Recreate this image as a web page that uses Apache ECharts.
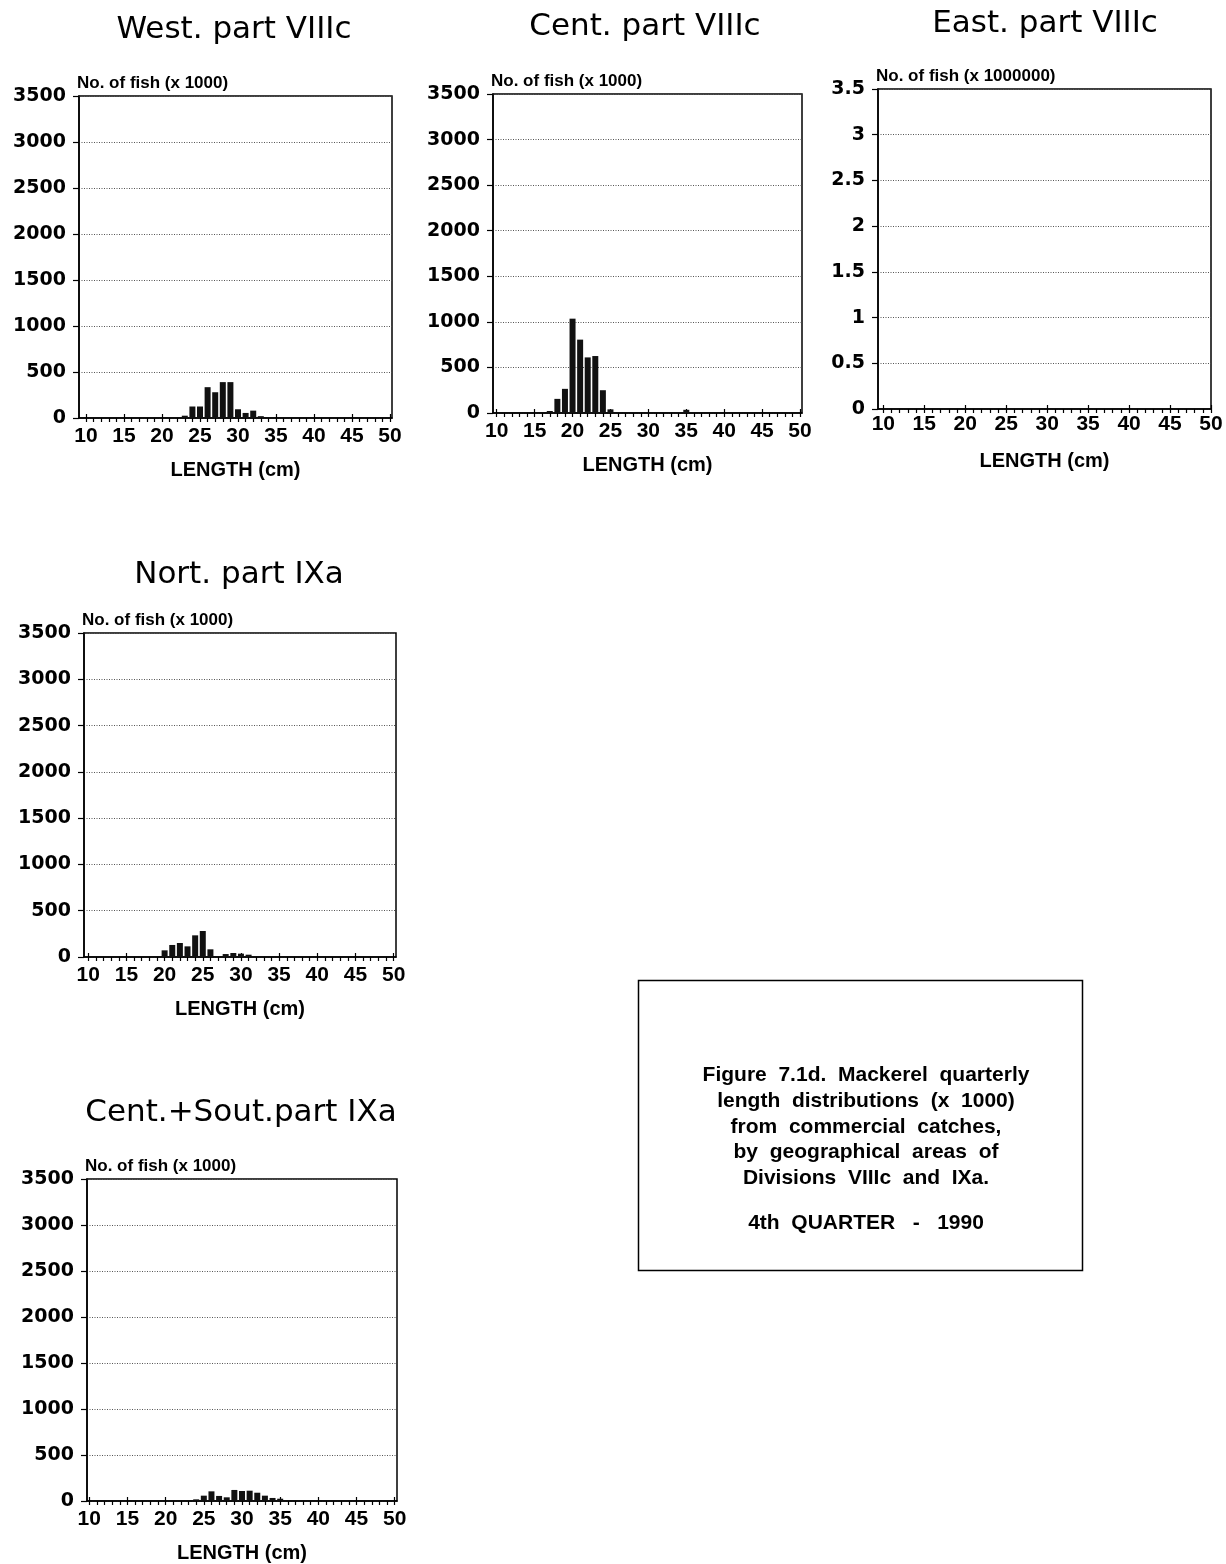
<!DOCTYPE html>
<html><head><meta charset="utf-8">
<script src="https://cdn.jsdelivr.net/npm/echarts@6/dist/echarts.min.js"></script>
<style>html,body{margin:0;padding:0;background:#fff}#c{width:1226px;height:1564px}</style>
</head><body><div id="c"></div>
<script>
// ---------- DATA ----------
const panelTitles = ['West. part VIIIc', 'Cent. part VIIIc', 'East. part VIIIc', 'Nort. part IXa', 'Cent.+Sout.part IXa'];
const yAxisNames = ['No. of fish (x 1000)', 'No. of fish (x 1000)', 'No. of fish (x 1000000)', 'No. of fish (x 1000)', 'No. of fish (x 1000)'];
const xAxisName = 'LENGTH (cm)';

const westLengths = [23, 24, 25, 26, 27, 28, 29, 30, 31, 32, 33];
const westCounts  = [25, 125, 125, 335, 280, 390, 390, 95, 55, 80, 20];

const centLengths = [17, 18, 19, 20, 21, 22, 23, 24, 25, 27, 28, 29, 31, 32, 34, 35, 36];
const centCounts  = [22, 155, 265, 1035, 805, 610, 625, 250, 40, 5, 8, 5, 5, 5, 10, 35, 8];

const eastLengths = [];
const eastCounts  = [];

const nortLengths = [20, 21, 22, 23, 24, 25, 26, 28, 29, 30, 31];
const nortCounts  = [72, 130, 151, 115, 234, 281, 83, 32, 43, 36, 25];

const csLengths = [24, 25, 26, 27, 28, 29, 30, 31, 32, 33, 34, 35];
const csCounts  = [18, 58, 105, 55, 40, 120, 109, 112, 90, 58, 33, 25];

const xMinorTicks = [10, 11, 12, 13, 14, 15, 16, 17, 18, 19, 20, 21, 22, 23, 24, 25, 26, 27, 28, 29, 30,
                     31, 32, 33, 34, 35, 36, 37, 38, 39, 40, 41, 42, 43, 44, 45, 46, 47, 48, 49, 50];
const xMajorTicks = [10, 15, 20, 25, 30, 35, 40, 45, 50];

const yCountMax = 3500, yCountStep = 500;
const yEastMax = 3.5, yEastStep = 0.5;

const captionLines = [
  'Figure  7.1d.  Mackerel  quarterly',
  'length  distributions  (x  1000)',
  'from  commercial  catches,',
  'by  geographical  areas  of',
  'Divisions  VIIIc  and  IXa.',
  '4th  QUARTER   -   1990'
];

// ---------- LAYOUT ----------
const panels = [
  { lengths: westLengths, counts: westCounts, grid: {left: 79, top: 96, width: 313, height: 322}, xMin: 9.08, xMax: 50.26, yMax: yCountMax, yStep: yCountStep, title: [234, 30], xm: 8 },
  { lengths: centLengths, counts: centCounts, grid: {left: 493, top: 94, width: 309, height: 319}, xMin: 9.51, xMax: 50.26, yMax: yCountMax, yStep: yCountStep, title: [645, 27], xm: 8 },
  { lengths: eastLengths, counts: eastCounts, grid: {left: 878, top: 89, width: 333, height: 320}, xMin: 9.35, xMax: 50.0, yMax: yEastMax, yStep: yEastStep, title: [1045, 24], xm: 5 },
  { lengths: nortLengths, counts: nortCounts, grid: {left: 84, top: 633, width: 312, height: 324}, xMin: 9.44, xMax: 50.31, yMax: yCountMax, yStep: yCountStep, title: [239, 575], xm: 8 },
  { lengths: csLengths, counts: csCounts, grid: {left: 87, top: 1179, width: 310, height: 322}, xMin: 9.7, xMax: 50.3, yMax: yCountMax, yStep: yCountStep, title: [241, 1113], xm: 8 }
];

const grids = [], xAxes = [], yAxes = [], series = [], graphics = [];

panels.forEach((p, i) => {
  grids.push(Object.assign({ show: true, borderColor: '#000', borderWidth: 1.5, backgroundColor: 'transparent' }, p.grid));
  xAxes.push({
    type: 'value', gridIndex: i, position: 'bottom', min: p.xMin, max: p.xMax,
    axisLine: { show: true, lineStyle: { color: '#000', width: 1.5 } },
    axisTick: { show: true, inside: false, length: 4, customValues: xMinorTicks, lineStyle: { color: '#000', width: 1.2 } },
    axisLabel: { show: true, customValues: xMajorTicks, margin: p.xm, color: '#000', fontFamily: 'Liberation Sans', fontWeight: 'bold', fontSize: 21, formatter: v => String(v) },
    splitLine: { show: false },
    name: xAxisName, nameLocation: 'middle', nameGap: 42,
    nameTextStyle: { color: '#000', fontFamily: 'Liberation Sans', fontWeight: 'bold', fontSize: 20, verticalAlign: 'top' }
  });
  yAxes.push({
    type: 'value', gridIndex: i, min: 0, max: p.yMax, interval: p.yStep,
    axisLine: { show: true, lineStyle: { color: '#000', width: 1.5 } },
    axisTick: { show: true, inside: false, length: 6, lineStyle: { color: '#000', width: 1.2 } },
    axisLabel: { margin: 13, color: '#000', fontFamily: 'DejaVu Sans', fontWeight: 'bold', fontSize: 19, formatter: v => String(v) },
    splitLine: { show: true, lineStyle: { color: '#555', width: 1, type: [1, 1.5] } },
    name: yAxisNames[i], nameLocation: 'end', nameGap: 13,
    nameTextStyle: { color: '#000', fontFamily: 'Liberation Sans', fontWeight: 'bold', fontSize: 17, align: 'left', verticalAlign: 'middle', padding: [0, 0, 0, -2] }
  });
  series.push({
    type: 'bar', xAxisIndex: i, yAxisIndex: i, barWidth: 6,
    itemStyle: { color: '#111' }, silent: true, animation: false,
    data: p.lengths.map((l, k) => [l, p.counts[k]])
  });
  graphics.push({
    type: 'text', x: p.title[0], y: p.title[1],
    style: { text: panelTitles[i], fill: '#000', font: '31px "DejaVu Sans"', textAlign: 'center', textVerticalAlign: 'middle' }
  });
});

// overlaid axes carrying the longer (crossing) major ticks
panels.forEach((p, i) => {
  xAxes.push({
    type: 'value', gridIndex: i, position: 'bottom', min: p.xMin, max: p.xMax,
    axisLine: { show: false },
    axisTick: { show: true, inside: true, length: 4, customValues: xMajorTicks, lineStyle: { color: '#000', width: 1.2 } },
    axisLabel: { show: false }, splitLine: { show: false }
  });
});

// caption box
graphics.push({
  type: 'rect', shape: { x: 638.5, y: 980.5, width: 444, height: 290 },
  style: { fill: 'none', stroke: '#000', lineWidth: 1.5 }
});
const captionY = [1075, 1101, 1127, 1152, 1178, 1223];
captionLines.forEach((t, k) => {
  graphics.push({
    type: 'text', x: 866, y: captionY[k],
    style: { text: t, fill: '#000', font: 'bold 21px "Liberation Sans"', textAlign: 'center', textVerticalAlign: 'middle' }
  });
});

const chart = echarts.init(document.getElementById('c'), null, { renderer: 'canvas' });
chart.setOption({
  animation: false,
  backgroundColor: '#fff',
  grid: grids, xAxis: xAxes, yAxis: yAxes, series: series, graphic: graphics
});
</script></body></html>
